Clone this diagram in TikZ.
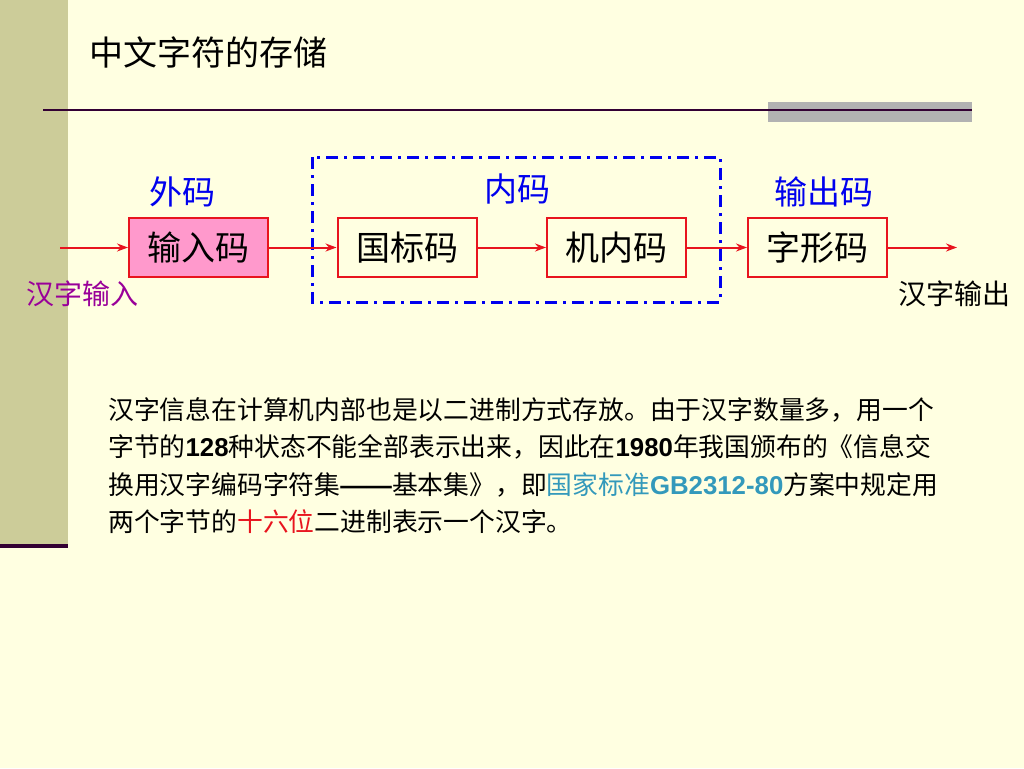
\documentclass[tikz,border=0pt]{standalone}
\usepackage{fontspec}
\setmainfont{Noto Sans CJK SC}
\newfontfamily\latinb{Liberation Sans}
\usetikzlibrary{arrows.meta}
\definecolor{bg}{HTML}{FFFFE1}
\definecolor{sidebar}{HTML}{CCCC99}
\definecolor{rule}{HTML}{330033}
\definecolor{boxred}{HTML}{E8141E}
\definecolor{pinkfill}{HTML}{FF99CC}
\definecolor{lblblue}{HTML}{0000EE}
\definecolor{purp}{HTML}{990099}
\definecolor{teal}{HTML}{3399BB}
\begin{document}
\begin{tikzpicture}[x=1pt,y=-1pt,
  codebox/.style={draw=boxred,line width=2pt,minimum width=139pt,minimum height=59pt,inner sep=0pt,font=\fontsize{34}{34}\selectfont},
  flow/.style={draw=boxred,line width=2pt,-{Stealth[length=11pt,width=8pt]}},
  lbl/.style={text=lblblue,font=\fontsize{33}{33}\selectfont},
  para/.style={anchor=west,inner sep=0pt,font=\fontsize{25.8}{25.8}\selectfont}]
\useasboundingbox (0,0) rectangle (1024,768);
\fill[bg] (0,0) rectangle (1024,768);
\fill[sidebar] (0,0) rectangle (68,546);
\draw[rule,line width=4pt] (0,546) -- (68,546);
\fill[black!30] (768,102) rectangle (972,122);
\draw[rule,line width=2.2pt] (43,110) -- (972,110);
\node[anchor=west,inner sep=0pt,font=\fontsize{34}{34}\selectfont] (title) at (89,52) {中文字符的存储};
% dash-dot frame
\draw[lblblue,line width=3pt,dash pattern=on 12pt off 6pt on 3pt off 6pt] (312,157) rectangle (720,302);
% boxes
\node[codebox,fill=pinkfill] (in) at (198.5,247.5) {输入码};
\node[codebox] (gb) at (407,247.5) {国标码};
\node[codebox] (jn) at (616.5,247.5) {机内码};
\node[codebox] (zx) at (817.5,247.5) {字形码};
\coordinate (s) at (60,247.5);
\coordinate (e) at (957,247.5);
\draw[flow] (s) -- (in);
\draw[flow] (in) -- (gb);
\draw[flow] (gb) -- (jn);
\draw[flow] (jn) -- (zx);
\draw[flow] (zx) -- (e);
% labels
\node[lbl] (wm) at (182,192) {外码};
\node[lbl] (nm) at (517,189) {内码};
\node[lbl] (sc) at (824,192) {输出码};
\node[text=purp,font=\fontsize{28}{28}\selectfont] (hin) at (82,294) {汉字输入};
\node[font=\fontsize{28}{28}\selectfont] (hout) at (954,294) {汉字输出};
% paragraph
\node[para] (p1) at (108,410) {汉字信息在计算机内部也是以二进制方式存放。由于汉字数量多，用一个};
\node[para] (p2) at (108,447) {字节的{\latinb\bfseries 128}种状态不能全部表示出来，因此在{\latinb\bfseries 1980}年我国颁布的《信息交};
\node[para] (p3) at (108,485) {换用汉字编码字符集{\latinb\bfseries ——}基本集》，即\textcolor{teal}{国家标准{\latinb\bfseries GB2312-80}}方案中规定用};
\node[para] (p4) at (108,522) {两个字节的\textcolor{boxred}{十六位}二进制表示一个汉字。};
\end{tikzpicture}
\end{document}
